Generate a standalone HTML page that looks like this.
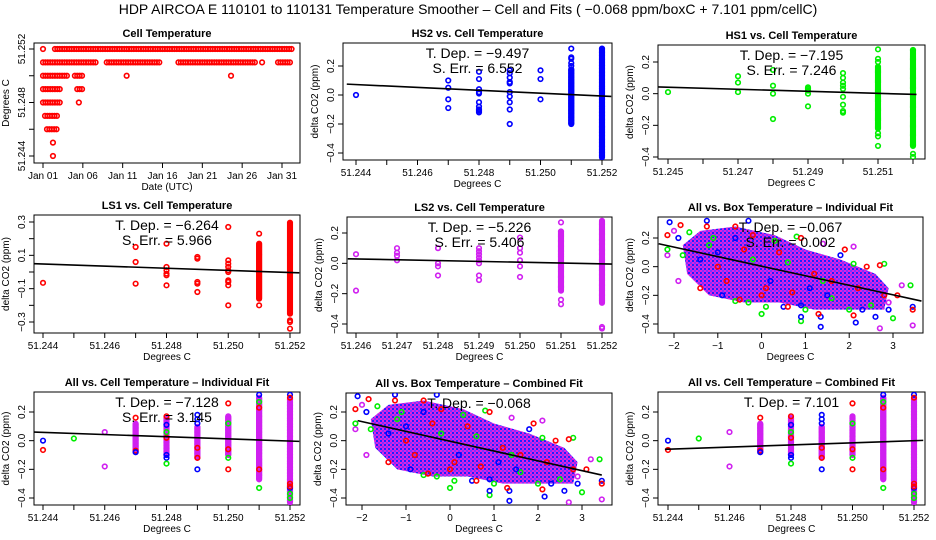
<!DOCTYPE html>
<html><head><meta charset="utf-8"><style>
body{margin:0;background:#fff}
svg{display:block;font-family:"Liberation Sans",sans-serif}
.t{font-size:10px}
.pt{font-size:11px;font-weight:bold}
.an{font-size:14px}
</style></head><body>
<svg id="c" width="936" height="540" viewBox="0 0 936 540">
<defs>
<pattern id="mix" width="4" height="4" patternUnits="userSpaceOnUse">
<rect width="4" height="4" fill="#e020e0"/><rect width="2" height="2" fill="#2020ff"/><rect x="2" y="2" width="2" height="2" fill="#8030ff"/>
</pattern>
</defs>
<text x="468" y="14" text-anchor="middle" font-size="14">HDP   AIRCOA E   110101 to 110131   Temperature Smoother – Cell and Fits ( −0.068  ppm/boxC + 7.101  ppm/cellC)</text>
</svg>
<script>
// ---- data ----
const cellRows = [[51.252,0,0],[51.252,1.5,31.2],[51.251,0,6.8],[51.251,8,14.7],[51.251,17,26.8],[51.251,27.5,27.5],[51.251,29.5,31.2],
[51.250,0,3],[51.250,4,5],[51.250,10.5,10.5],[51.250,23.6,23.6],[51.249,0,2.2],[51.249,4.3,4.9],[51.248,0,2.2],[51.248,4.5,4.5],
[51.247,0.25,1.9],[51.246,0.5,1.7],[51.245,1.25,1.25],[51.244,1.25,1.25]];
const hs2Cols = [[51.244,[0.0],null],[51.247,[0.1,0.05,-0.03,-0.09],null],[51.248,[0.16,0.11,0.04,0.02,0.01,-0.05,-0.08,-0.1,-0.11,-0.12],null],
[51.249,[0.17,0.15,0.12,0.09,0.08,0.02,-0.01,-0.05,-0.1,-0.2],null],[51.250,[0.17,0.11,-0.03],null],[51.251,[0.32,0.26,0.25,0.22,0.2],[-0.2,0.18]],[51.252,[],[-0.43,0.32]]];
const hs1Cols = [[51.245,[0.01],null],[51.247,[0.11,0.07,0.01],null],[51.248,[0.15,0.05,0.0,-0.16],null],[51.249,[0.04,0.03,0.02,0.0,-0.08],null],
[51.250,[0.13,0.1,0.07,0.05,0.03,-0.02,-0.07,-0.11,-0.12],null],[51.251,[0.28,0.22,0.2,-0.33,-0.25,-0.27],[-0.22,0.17]],[51.252,[-0.38,-0.4],[-0.33,0.28]]];
const ls1Cols = [[51.244,[-0.065],null],[51.247,[0.15,0.06,-0.07],null],[51.248,[0.17,0.03,0.01,-0.01,-0.02,-0.08],null],[51.249,[0.09,0.08,-0.06,-0.07,-0.12],null],
[51.250,[0.27,0.07,0.05,0.03,0.01,0.0,-0.05,-0.06,-0.08,-0.2],null],[51.251,[0.23,-0.2],[-0.16,0.17]],[51.252,[-0.29,-0.3,-0.34],[-0.25,0.3]]];
const ls2Cols = [[51.246,[0.06,-0.18],null],[51.247,[0.1,0.07,0.05,0.02],null],[51.248,[0.1,0.0,-0.02,-0.08],null],[51.249,[0.1,0.08,0.06,0.04,0.02,0.0,-0.08,-0.11],null],
[51.250,[0.17,0.1,0.07,0.02,-0.02,-0.09],null],[51.251,[0.27,-0.24,-0.27],[-0.18,0.21]],[51.252,[-0.42,-0.43],[-0.26,0.28]]];
const allCellCols = [[51.244,'b',[0.0],null],[51.244,'r',[-0.065],null],[51.245,'g',[0.015],null],[51.246,'m',[0.06,-0.18],null],
[51.247,'m',[],[-0.08,0.12]],[51.247,'r',[0.16,-0.07],null],[51.247,'b',[-0.08],null],
[51.248,'m',[],[-0.1,0.16]],[51.248,'r',[0.17,0.02],null],[51.248,'b',[0.11,-0.1,-0.12],null],[51.248,'g',[-0.16,0.06],null],
[51.249,'m',[],[-0.12,0.1]],[51.249,'b',[0.18,0.15,0.12,-0.2],null],[51.249,'r',[-0.05,-0.12],null],
[51.250,'m',[],[-0.1,0.17]],[51.250,'r',[0.26,-0.06,-0.2],null],[51.250,'g',[0.12,-0.12],null],
[51.251,'m',[],[-0.27,0.3]],[51.251,'b',[0.32],null],[51.251,'g',[0.27,-0.33],null],[51.251,'r',[0.23,-0.2],null],
[51.252,'m',[],[-0.43,0.3]],[51.252,'b',[0.32,-0.33],null],[51.252,'r',[0.3,-0.3,-0.32],null],[51.252,'g',[-0.37,-0.4],null]];
const boxCloud = [[-1.8,0.15],[-1.4,0.25],[-0.6,0.28],[0.3,0.22],[1.0,0.12],[1.8,0.05],[2.6,-0.05],[2.9,-0.15],[2.8,-0.3],[2.0,-0.3],[1.2,-0.3],[0.4,-0.25],[-0.4,-0.25],[-1.2,-0.2],[-1.7,-0.05]];
const boxBlue = [[-2.1,0.31],[-1.9,0.2],[-1.25,0.32],[-0.3,0.32],[-1.4,0.05],[0.9,-0.27],[1.35,-0.35],[1.35,-0.42],[2.15,-0.39],[2.6,-0.35],[3.45,-0.28],[2.9,-0.3],[0.9,-0.35],[1.8,0.08],[0.5,-0.28],[1.5,-0.2],[-0.9,-0.2],[2.3,-0.3],[-0.6,0.2],[0.2,-0.1],[1.1,-0.15],[-1.0,0.1]];
const boxRed = [[-2.15,0.22],[-1.85,0.29],[-1.25,0.28],[-0.6,0.28],[-0.2,0.22],[0.9,0.2],[1.9,0.12],[2.1,-0.34],[3.1,-0.2],[3.45,-0.3],[2.7,0.01],[1.3,-0.33],[0.6,-0.28],[-1.4,-0.15],[-0.5,-0.23],[0.1,-0.15],[2.4,0.0],[1.6,-0.1],[2.8,-0.2],[-1.0,0.0],[0.0,-0.2],[-0.4,0.12],[0.4,0.1],[1.2,-0.05],[-0.8,-0.1],[0.7,-0.18],[2.2,-0.15]];
const boxGreen = [[-2.15,0.12],[-1.65,0.24],[-1.1,0.2],[0.8,0.21],[0.9,-0.38],[0.0,-0.33],[-0.6,-0.24],[-0.3,-0.25],[2.0,-0.3],[3.0,-0.36],[3.4,-0.13],[2.8,0.02],[2.1,0.02],[1.6,-0.22],[0.6,0.03],[-1.8,0.08],[2.5,-0.27],[1.0,-0.3],[0.1,-0.28],[-0.2,0.05],[0.3,0.18],[1.4,-0.1],[-1.2,0.15]];
const boxMag = [[-2.15,0.08],[-1.9,-0.1],[-2.0,0.25],[2.1,0.14],[2.7,-0.43],[3.45,-0.41],[3.2,-0.13],[1.4,0.16],[2.9,-0.25]];
const fits = {p2:[51.2437,0.075,51.2523,-0.01],p3:[51.2443,0.045,51.2521,-0.005],p4:[51.2437,0.05,51.2523,-0.005],p5:[51.2458,0.03,51.2523,-0.005],
p6:[-2.35,0.16,3.65,-0.24],p7:[51.2437,0.06,51.2523,-0.005],p8:[-2.1,0.14,3.45,-0.24],p9:[51.2439,-0.06,51.2523,0.002]};
const dateTicks = ['Jan 01','Jan 06','Jan 11','Jan 16','Jan 21','Jan 26','Jan 31'];

const COL={r:'#ff0000',g:'#00ee00',b:'#0000ff',m:'#d020f0'};
const svg=document.getElementById('c');const NS='http://www.w3.org/2000/svg';
function el(tag,at,parent,txt){const e=document.createElementNS(NS,tag);for(const k in at)e.setAttribute(k,at[k]);if(txt!=null)e.textContent=txt;(parent||svg).appendChild(e);return e;}
function lin(a,pa,b,pb){return v=>pa+(v-a)*(pb-pa)/(b-a);}
function panel(o){
  const g=el('g',{});
  o.g=g;o.sx=lin(...o.xa);o.sy=lin(...o.ya);
  const fr=el('rect',{x:o.x0,y:o.y0,width:o.x1-o.x0,height:o.y1-o.y0,fill:'none',stroke:'#000','stroke-width':1},g);
  
  const tt=el('text',{x:(o.x0+o.x1)/2,y:o.y0-6,'text-anchor':'middle',class:'pt'},g,o.title);
  
  o.xt.forEach(t=>{const px=o.sx(t[0]);el('line',{x1:px,x2:px,y1:o.y1,y2:o.y1+5,stroke:'#000'},g);
    if(t[1]){const l=el('text',{x:px,y:o.y1+16,'text-anchor':'middle',class:'t'},g,t[1]);}});
  o.yt.forEach(t=>{const py=o.sy(t[0]);el('line',{x1:o.x0,x2:o.x0-5,y1:py,y2:py,stroke:'#000'},g);
    if(t[1]){const l=el('text',{x:o.x0-9,y:py,'text-anchor':'middle',class:'t',transform:`rotate(-90 ${o.x0-9} ${py})`},g,t[1]);}});
  const xl=el('text',{x:(o.x0+o.x1)/2,y:o.y1+27,'text-anchor':'middle',class:'t'},g,o.xlab);
  
  const yx=o.x0-25,yy=(o.y0+o.y1)/2;
  const yl=el('text',{x:yx,y:yy,'text-anchor':'middle',class:'t',transform:`rotate(-90 ${yx} ${yy})`},g,o.ylab);
  
  o.clip='cl'+o.name;const cp=el('clipPath',{id:o.clip},g);el('rect',{x:o.x0,y:o.y0,width:o.x1-o.x0,height:o.y1-o.y0},cp);
  o.pg=el('g',{'clip-path':`url(#${o.clip})`},g);
  return o;
}
function pt(o,x,y,c){const e=el('circle',{cx:o.sx(x),cy:o.sy(y),r:2.3,fill:'none',stroke:c,'stroke-width':1.6},o.pg);
  }
function cols(o,data,c){data.forEach(d=>{d[1].forEach(v=>pt(o,d[0],v,c));if(d[2]){for(let v=d[2][0];v<=d[2][1]+1e-9;v+=0.006)pt(o,d[0],v,c);}});}
function fit(o,f){const l=el('line',{x1:o.sx(f[0]),y1:o.sy(f[1]),x2:o.sx(f[2]),y2:o.sy(f[3]),stroke:'#000','stroke-width':1.6},o.pg);
  }
function ann(o,lines){lines.forEach((s,i)=>{const t=el('text',{x:(o.x0+o.x1)/2,y:o.y0+15+i*15,'text-anchor':'middle',class:'an'},o.g,s);
  });}
const tX=(a,b,lab)=>{const r=[];for(let i=0;i<=Math.round((b-a)*1000);i++){const v=+(a+i*0.001).toFixed(3);r.push([v,lab(i)?v.toFixed(3):null]);}return r;};
const yT2=[[0.2,'0.2'],[0.0,'0.0'],[-0.2,'−0.2'],[-0.4,'−0.4']];
const bxT=[[-2,'−2'],[-1,'−1'],[0,'0'],[1,'1'],[2,'2'],[3,'3']];

const p1=panel({name:'cell-temperature-panel',title:'Cell Temperature',x0:34,x1:300,y0:43,y1:163,xa:[0,43,30,282],ya:[51.244,156,51.252,49],
 xt:dateTicks.map((s,i)=>[i*5,s]),yt:[[51.244,'51.244'],[51.246,null],[51.248,'51.248'],[51.250,null],[51.252,'51.252']],xlab:'Date (UTC)',ylab:'Degrees C'});
cellRows.forEach(r=>{for(let d=r[1];d<=r[2]+1e-9;d+=0.3)pt(p1,d,r[0],'#ff0000');});
const p2=panel({name:'hs2-panel',title:'HS2 vs. Cell Temperature',x0:343,x1:612,y0:43,y1:160,xa:[51.244,356,51.252,602],ya:[0.2,66,-0.4,153],
 xt:tX(51.244,51.252,i=>i%2==0),yt:yT2,xlab:'Degrees C',ylab:'delta CO2 (ppm)'});
cols(p2,hs2Cols,COL.b);fit(p2,fits.p2);ann(p2,['T. Dep. =  −9.497','S. Err. =  6.552']);
const p3=panel({name:'hs1-panel',title:'HS1 vs. Cell Temperature',x0:658,x1:925,y0:45,y1:159,xa:[51.245,668,51.251,878],ya:[0.2,62,-0.4,157],
 xt:tX(51.245,51.252,i=>i%2==0&&i<7),yt:yT2,xlab:'Degrees C',ylab:'delta CO2 (ppm)'});
cols(p3,hs1Cols,COL.g);fit(p3,fits.p3);ann(p3,['T. Dep. =  −7.195','S. Err. = 7.246']);
const p4=panel({name:'ls1-panel',title:'LS1 vs. Cell Temperature',x0:34,x1:300,y0:215,y1:333,xa:[51.244,43,51.252,290],ya:[0.3,222,-0.3,322],
 xt:tX(51.244,51.252,i=>i%2==0),yt:[[0.3,'0.3'],[0.2,null],[0.1,'0.1'],[0,null],[-0.1,'−0.1'],[-0.2,null],[-0.3,'−0.3']],xlab:'Degrees C',ylab:'delta CO2 (ppm)'});
cols(p4,ls1Cols,COL.r);fit(p4,fits.p4);ann(p4,['T. Dep. =  −6.264','S. Err. =  5.966']);
const p5=panel({name:'ls2-panel',title:'LS2 vs. Cell Temperature',x0:347,x1:612,y0:217,y1:333,xa:[51.246,356,51.252,602],ya:[0.2,233,-0.4,324],
 xt:tX(51.246,51.252,()=>true),yt:yT2,xlab:'Degrees C',ylab:'delta CO2 (ppm)'});
cols(p5,ls2Cols,COL.m);fit(p5,fits.p5);ann(p5,['T. Dep. =  −5.226','S. Err. =  5.406']);
function boxPanel(o,f,lines){const p=panel(o);
  const poly=el('polygon',{points:boxCloud.map(q=>p.sx(q[0])+','+p.sy(q[1])).join(' '),fill:'url(#mix)'},p.pg);
  
  boxMag.forEach(q=>pt(p,q[0],q[1],COL.m));boxGreen.forEach(q=>pt(p,q[0],q[1],COL.g));
  boxBlue.forEach(q=>pt(p,q[0],q[1],COL.b));boxRed.forEach(q=>pt(p,q[0],q[1],COL.r));
  fit(p,f);ann(p,lines);return p;}
boxPanel({name:'all-box-individual-panel',title:'All vs. Box Temperature – Individual Fit',x0:658,x1:923,y0:217,y1:333,xa:[-2,674,3,893],ya:[0.2,238,-0.4,324],
 xt:bxT,yt:yT2,xlab:'Degrees C',ylab:'delta CO2 (ppm)'},fits.p6,['T. Dep. =  −0.067','S. Err. =  0.002']);
function allCell(o,f,lines){const p=panel(o);allCellCols.forEach(d=>cols(p,[[d[0],d[2],d[3]]],COL[d[1]]));fit(p,f);ann(p,lines);}
allCell({name:'all-cell-individual-panel',title:'All vs. Cell Temperature – Individual Fit',x0:34,x1:300,y0:392,y1:505,xa:[51.244,43,51.252,290],ya:[0.2,412,-0.4,498],
 xt:tX(51.244,51.252,i=>i%2==0),yt:yT2,xlab:'Degrees C',ylab:'delta CO2 (ppm)'},fits.p7,['T. Dep. =  −7.128','S. Err. =  3.145']);
boxPanel({name:'all-box-combined-panel',title:'All vs. Box Temperature – Combined Fit',x0:346,x1:612,y0:393,y1:505,xa:[-2,362,3,582],ya:[0.2,412,-0.4,498],
 xt:bxT,yt:yT2,xlab:'Degrees C',ylab:'delta CO2 (ppm)'},fits.p8,['T. Dep. =  −0.068']);
allCell({name:'all-cell-combined-panel',title:'All vs. Cell Temperature – Combined Fit',x0:658,x1:925,y0:392,y1:505,xa:[51.244,668,51.252,914],ya:[0.2,412,-0.4,498],
 xt:tX(51.244,51.252,i=>i%2==0),yt:yT2,xlab:'Degrees C',ylab:'delta CO2 (ppm)'},fits.p9,['T. Dep. =  7.101']);
</script>
</body></html>
